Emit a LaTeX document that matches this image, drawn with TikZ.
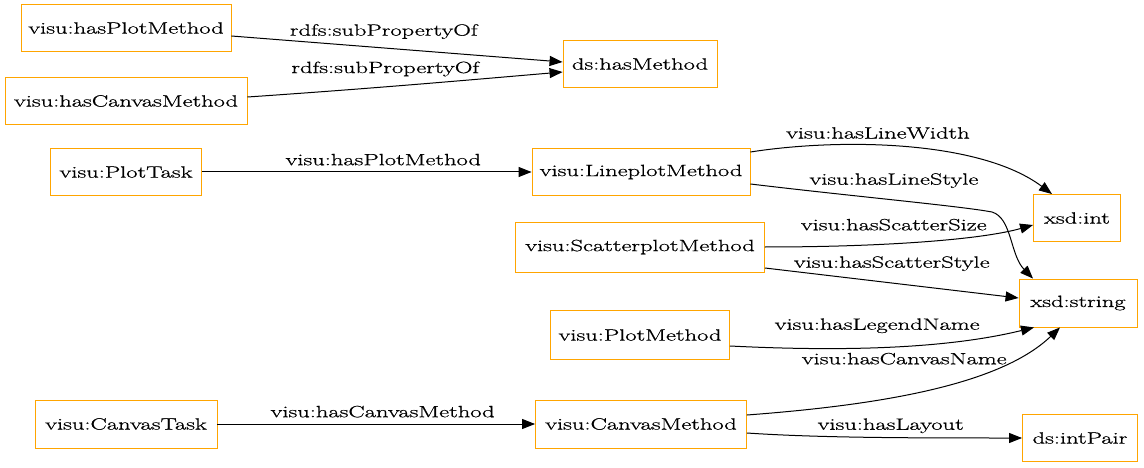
\documentclass[tikz,border=0pt]{standalone}
\usepackage{fontspec}
\setmainfont{Latin Modern Roman}[FakeStretch=1.5, FakeBold=0.8]
\usepackage{xcolor}
\definecolor{vborder}{RGB}{255,165,0}
\usetikzlibrary{arrows.meta, positioning}

\begin{document}
\begin{tikzpicture}[x=1pt, y=-1pt,
  cls/.style={draw=vborder, line width=0.9pt, fill=white, inner sep=0pt,
              minimum height=47pt, font=\fontsize{16.3}{19}\selectfont},
  prop/.style={-{Triangle[length=13pt, width=10pt]}, black, line width=1pt},
  lbl/.style={font=\fontsize{16.3}{19}\selectfont, inner sep=1pt,
              text height=11.5pt, text depth=3.3pt}]

\useasboundingbox (0,0) rectangle (1144,468);

% --- property hierarchy ---
\node[cls, minimum width=210pt] (hpm) at (126,28) {visu:hasPlotMethod};
\node[cls, minimum width=242pt] (hcm) at (126,101) {visu:hasCanvasMethod};
\node[cls, minimum width=154pt] (hm) at (640,64) {ds:hasMethod};

% --- tasks and methods ---
\node[cls, minimum width=151pt] (pt) at (126,172) {visu:PlotTask};
\node[cls, minimum width=218pt] (lpm) at (641,172) {visu:LineplotMethod};
\node[cls, minimum width=249pt, minimum height=50pt] (spm) at (640,247) {visu:ScatterplotMethod};
\node[cls, minimum width=179pt, minimum height=49pt] (pm) at (640,335) {visu:PlotMethod};
\node[cls, minimum width=182pt, minimum height=48pt] (ct) at (126,424) {visu:CanvasTask};
\node[cls, minimum width=211pt, minimum height=48pt] (cm) at (641,424) {visu:CanvasMethod};

% --- datatypes ---
\node[cls, minimum width=87pt] (int) at (1077,218) {xsd:int};
\node[cls, minimum width=118pt, minimum height=48pt] (str) at (1078,303) {xsd:string};
\node[cls, minimum width=115pt] (ip) at (1080,438) {ds:intPair};

% subproperties
\draw[prop] ([yshift=-8pt]hpm.east) -- node[lbl, above=7.5pt, pos=0.46] {rdfs:subPropertyOf} ([yshift=2pt]hm.west);
\draw[prop] ([yshift=4pt]hcm.east) .. controls (380,88) and (480,79) .. node[lbl, above=9pt, pos=0.38] {rdfs:subPropertyOf} ([yshift=-8pt]hm.west);

% tasks
\draw[prop] (pt) -- node[lbl, above=2pt, pos=0.55] {visu:hasPlotMethod} (lpm);
\draw[prop] (ct) -- node[lbl, above=2pt, pos=0.52] {visu:hasCanvasMethod} (cm);

% lineplot
\draw[prop] ([yshift=20pt]lpm.east) .. controls (840,138) and (980,140) .. node[lbl, above=2pt, pos=0.41] {visu:hasLineWidth} ([xshift=-25pt]int.north);
\draw[prop] ([yshift=-12pt]lpm.east) .. controls (850,196) and (960,206) .. node[lbl, above=10.5pt, pos=0.49] {visu:hasLineStyle} (992,212)
  .. controls (1012,218) and (1010,255) .. ([xshift=-45pt]str.north);

% scatterplot
\draw[prop] (spm.east) .. controls (880,247) and (980,240) .. node[lbl, above=8.5pt, pos=0.4] {visu:hasScatterSize} ([yshift=-7pt]int.west);
\draw[prop] ([yshift=-21pt]spm.east) -- node[lbl, above=10.5pt, pos=0.5] {visu:hasScatterStyle} ([yshift=5pt]str.west);

% legend and canvas
\draw[prop] ([yshift=-11pt]pm.east) .. controls (850,352) and (950,348) .. node[lbl, above=13pt, pos=0.44] {visu:hasLegendName} ([xshift=-44pt]str.south);
\draw[prop] ([yshift=9pt]cm.east) .. controls (880,405) and (1000,385) .. node[lbl, above=26pt, pos=0.42] {visu:hasCanvasName} ([xshift=-18pt]str.south);
\draw[prop] ([yshift=-9pt]cm.east) .. controls (820,438) and (920,438) .. node[lbl, above=3pt, pos=0.56] {visu:hasLayout} (ip.west);

\end{tikzpicture}
\end{document}
